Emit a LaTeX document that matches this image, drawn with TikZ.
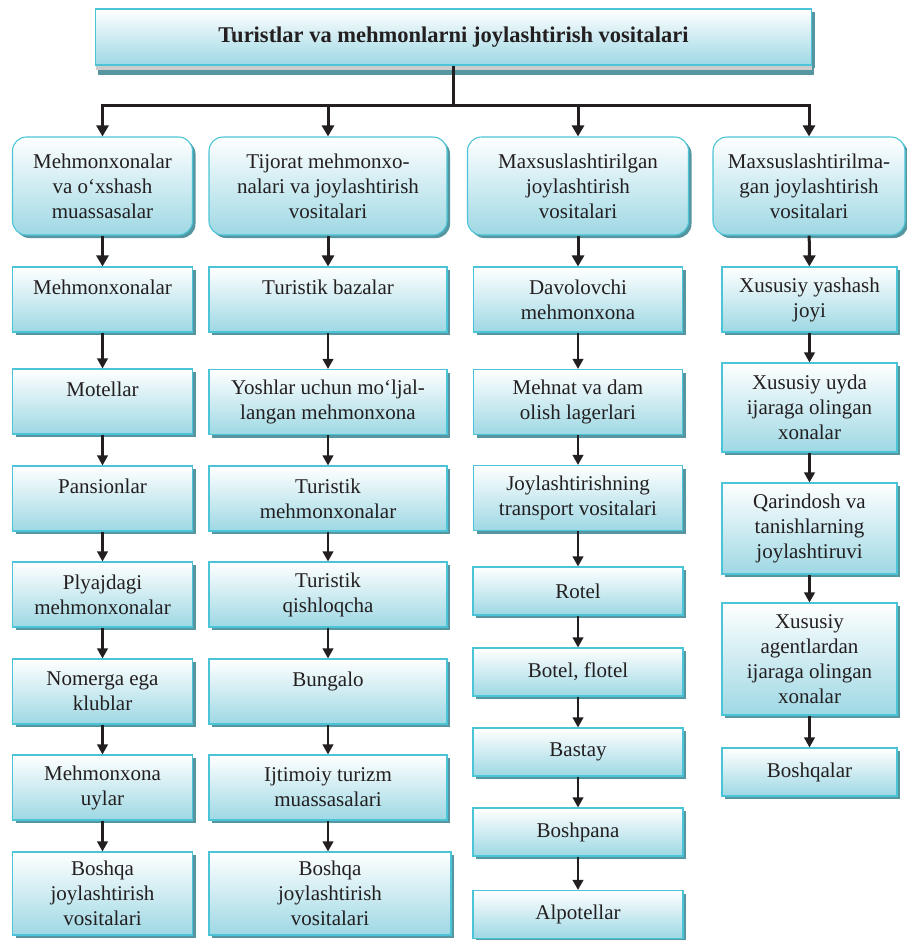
\documentclass[tikz,border=0pt]{standalone}
\usepackage{fontspec}
\setmainfont{Liberation Serif}
\newfontfamily\boxfont{Liberation Serif}
\usetikzlibrary{arrows.meta,shadows}

\definecolor{boxline}{RGB}{74,196,214}
\definecolor{boxfill}{RGB}{158,216,228}
\definecolor{boxshade}{RGB}{86,150,160}
\definecolor{arrowcol}{RGB}{35,31,32}

\begin{document}
\begin{tikzpicture}
        [x=1pt,y=-1pt,
         every node/.style={draw=boxline,line width=1.1pt,top color=white,bottom color=boxfill,
           inner sep=0,align=center,font=\boxfont\fontsize{21}{25}\selectfont,text=arrowcol,
           drop shadow={shadow xshift=3pt,shadow yshift=-3pt,fill=boxshade,opacity=1}},
         hdr/.style={rounded corners=14pt,minimum height=98pt},
         arr/.style={-{Triangle[length=10pt,width=10.5pt]},line width=2.2pt,arrowcol},
         arrbig/.style={-{Triangle[length=11pt,width=12pt]},line width=3pt,arrowcol}]

        \useasboundingbox (0,0) rectangle (906,940);

        % title
        \node[minimum width=716pt,minimum height=56pt,font=\boxfont\fontsize{22.5}{26}\selectfont\bfseries,
              drop shadow={shadow xshift=2pt,shadow yshift=-10pt,fill=boxshade,opacity=1},
              drop shadow={shadow xshift=0pt,shadow yshift=-5pt,fill=black!20,opacity=1}]
              (title) at (453.5,37) {Turistlar va mehmonlarni joylashtirish vositalari};
        \coordinate (hub) at (453.5,105);

        % headers
        \node[hdr,minimum width=180pt] (h1) at (102.5,186) {Mehmonxonalar\\va o‘xshash\\muassasalar};
        \node[hdr,minimum width=238pt] (h2) at (328,186) {Tijorat mehmonxo-\\nalari va joylashtirish\\vositalari};
        \node[hdr,minimum width=221pt] (h3) at (578,186) {Maxsuslashtirilgan\\joylashtirish\\vositalari};
        \node[hdr,minimum width=192pt] (h4) at (809,186) {Maxsuslashtirilma-\\gan joylashtirish\\vositalari};

        % column 1
        \node[minimum width=180pt,minimum height=65pt] (a1) at (102.5,299.5) {Mehmonxonalar\\\mbox{}};
        \node[minimum width=180pt,minimum height=65pt] (a2) at (102.5,401.5) {Motellar\\\mbox{}};
        \node[minimum width=180pt,minimum height=65pt] (a3) at (102.5,498.5) {Pansionlar\\\mbox{}};
        \node[minimum width=180pt,minimum height=65pt] (a4) at (102.5,594.5) {Plyajdagi\\mehmonxonalar};
        \node[minimum width=180pt,minimum height=65pt] (a5) at (102.5,691.5) {Nomerga ega\\klublar};
        \node[minimum width=180pt,minimum height=65pt] (a6) at (102.5,787.5) {Mehmonxona\\uylar};
        \node[minimum width=180pt,minimum height=83pt] (a7) at (102.5,893.5) {Boshqa\\joylashtirish\\vositalari};

        % column 2
        \node[minimum width=238pt,minimum height=65pt] (b1) at (328,299.5) {Turistik bazalar\\\mbox{}};
        \node[minimum width=238pt,minimum height=65pt] (b2) at (328,402) {Yoshlar uchun mo‘ljal-\\langan mehmonxona};
        \node[minimum width=238pt,minimum height=65pt] (b3) at (328,498.5) {Turistik\\mehmonxonalar};
        \node[minimum width=238pt,minimum height=65pt] (b4) at (328,594.5) {Turistik\\qishloqcha};
        \node[minimum width=238pt,minimum height=65pt] (b5) at (328,691.5) {Bungalo\\\mbox{}};
        \node[minimum width=238pt,minimum height=65pt] (b6) at (328,787.5) {Ijtimoiy turizm\\muassasalari};
        \node[minimum width=242pt,minimum height=83pt] (b7) at (330,893.5) {Boshqa\\joylashtirish\\vositalari};

        % column 3
        \node[minimum width=209pt,minimum height=65pt] (c1) at (578,299.5) {Davolovchi\\mehmonxona};
        \node[minimum width=209pt,minimum height=65pt] (c2) at (578,402) {Mehnat va dam\\olish lagerlari};
        \node[minimum width=209pt,minimum height=65pt] (c3) at (578,498) {Joylashtirishning\\transport vositalari};
        \node[minimum width=210pt,minimum height=48pt] (c4) at (578,591) {Rotel};
        \node[minimum width=210pt,minimum height=48pt] (c5) at (578,672) {Botel, flotel};
        \node[minimum width=210pt,minimum height=48pt] (c6) at (578,752) {Bastay};
        \node[minimum width=210pt,minimum height=48pt] (c7) at (578,832) {Boshpana};
        \node[minimum width=210pt,minimum height=48pt] (c8) at (578,914.5) {Alpotellar};

        % column 4
        \node[minimum width=175pt,minimum height=65pt] (d1) at (809.5,299.5) {Xususiy yashash\\joyi};
        \node[minimum width=175pt,minimum height=89pt] (d2) at (809.5,407.5) {Xususiy uyda\\ijaraga olingan\\xonalar};
        \node[minimum width=175pt,minimum height=91pt] (d3) at (809.5,528.5) {Qarindosh va\\tanishlarning\\joylashtiruvi};
        \node[minimum width=175pt,minimum height=112pt] (d4) at (809.5,659) {Xususiy\\agentlardan\\ijaraga olingan\\xonalar};
        \node[minimum width=175pt,minimum height=48pt] (d5) at (809.5,772) {Boshqalar};

        \draw[arrbig,-] (title) -- (hub);
        \draw[arrbig] (hub) -| (h1);
        \draw[arrbig] (hub) -| (h2);
        \draw[arrbig] (hub) -| (h3);
        \draw[arrbig] (hub) -| (h4);

        \draw[arrbig] (h1) -- (a1);
        \draw[arr] (a1) -- (a2);
        \draw[arr] (a2) -- (a3);
        \draw[arr] (a3) -- (a4);
        \draw[arr] (a4) -- (a5);
        \draw[arr] (a5) -- (a6);
        \draw[arr] (a6) -- (a7);

        \draw[arrbig] (h2) -- (b1);
        \draw[arr] (b1) -- (b2);
        \draw[arr] (b2) -- (b3);
        \draw[arr] (b3) -- (b4);
        \draw[arr] (b4) -- (b5);
        \draw[arr] (b5) -- (b6);
        \draw[arr] (b6) -- (b6 |- b7.north);

        \draw[arrbig] (h3) -- (c1);
        \draw[arr] (c1) -- (c2);
        \draw[arr] (c2) -- (c3);
        \draw[arr] (c3) -- (c4);
        \draw[arr] (c4) -- (c5);
        \draw[arr] (c5) -- (c6);
        \draw[arr] (c6) -- (c7);
        \draw[arr] (c7) -- (c8);

        \draw[arrbig] (h4) -- (d1);
        \draw[arr] (d1) -- (d2);
        \draw[arr] (d2) -- (d3);
        \draw[arr] (d3) -- (d4);
        \draw[arr] (d4) -- (d5);
      \end{tikzpicture}
\end{document}
